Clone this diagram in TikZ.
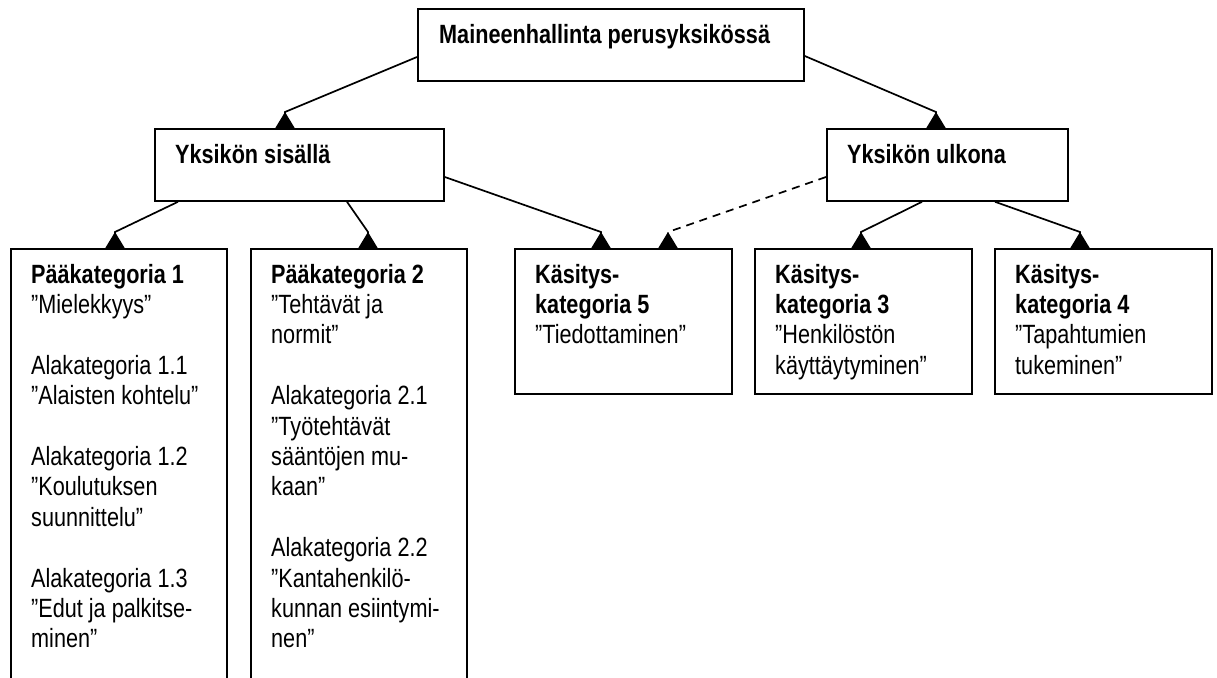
\documentclass[tikz,border=0pt]{standalone}
\usepackage{fontspec}
\setmainfont{Liberation Sans}[FakeStretch=0.82]
\usetikzlibrary{calc}
\newcommand\boxtext[1]{\parbox[t]{200pt}{\raggedright #1}}
\begin{document}
\begin{tikzpicture}[x=1pt,y=-1pt,
  box/.style={draw=black,line width=1.8pt,inner sep=0pt,anchor=north west,rectangle},
  txt/.style={anchor=base west,inner sep=0pt,font=\fontsize{26.4}{30.4}\selectfont},
  conn/.style={draw=black,line width=1.7pt},
  dconn/.style={conn,dash pattern=on 8pt off 6pt},
  tri/.pic={\fill[black] (0,0) -- (-10,16.5) -- (10,16.5) -- cycle;}
]
\useasboundingbox (0,0) rectangle (1217,677);
\clip (0,0) rectangle (1217,677);
\fill[white] (0,0) rectangle (1217,677);

% boxes
\node[box,minimum width=386pt,minimum height=72pt] (top) at (417,8) {};
\node[box,minimum width=289pt,minimum height=72pt] (sis) at (154,128) {};
\node[box,minimum width=241pt,minimum height=72pt] (ulk) at (826,128) {};
\node[box,minimum width=216pt,minimum height=460pt] (b1) at (10,248) {};
\node[box,minimum width=216pt,minimum height=460pt] (b2) at (250,248) {};
\node[box,minimum width=217pt,minimum height=145pt] (k5) at (514,248) {};
\node[box,minimum width=217pt,minimum height=145pt] (k3) at (754,248) {};
\node[box,minimum width=217pt,minimum height=145pt] (k4) at (994,248) {};

% texts
\node[txt] (toptxt) at ($(top.north west)+(22,36)$) {\textbf{Maineenhallinta perusyksikössä}};
\node[txt] (sistxt) at ($(sis.north west)+(21,35)$) {\textbf{Yksikön sisällä}};
\node[txt] (ulktxt) at ($(ulk.north west)+(21,35)$) {\textbf{Yksikön ulkona}};
\node[txt] (b1txt) at ($(b1.north west)+(21,35)$) {\boxtext{\textbf{Pääkategoria 1}\\
”Mielekkyys”\\[30.4pt]
Alakategoria 1.1\\
”Alaisten kohtelu”\\[30.4pt]
Alakategoria 1.2\\
”Koulutuksen\\
suunnittelu”\\[30.4pt]
Alakategoria 1.3\\
”Edut ja palkitse-\\
minen”}};
\node[txt] (b2txt) at ($(b2.north west)+(21,35)$) {\boxtext{\textbf{Pääkategoria 2}\\
”Tehtävät ja\\
normit”\\[30.4pt]
Alakategoria 2.1\\
”Työtehtävät\\
sääntöjen mu-\\
kaan”\\[30.4pt]
Alakategoria 2.2\\
”Kantahenkilö-\\
kunnan esiintymi-\\
nen”}};
\node[txt] (k5txt) at ($(k5.north west)+(21,35)$) {\boxtext{\textbf{Käsitys-}\\
\textbf{kategoria 5}\\
”Tiedottaminen”}};
\node[txt] (k3txt) at ($(k3.north west)+(21,35)$) {\boxtext{\textbf{Käsitys-}\\
\textbf{kategoria 3}\\
”Henkilöstön\\
käyttäytyminen”}};
\node[txt] (k4txt) at ($(k4.north west)+(21,35)$) {\boxtext{\textbf{Käsitys-}\\
\textbf{kategoria 4}\\
”Tapahtumien\\
tukeminen”}};

% connector start points
\coordinate (sA) at ($(top.north west)+(0,49)$);
\coordinate (sB) at ($(top.north east)+(0,48)$);
\coordinate (sC) at ($(sis.south west)+(24,0)$);
\coordinate (sD) at ($(sis.south west)+(193,0)$);
\coordinate (sE) at ($(sis.north east)+(0,49)$);
\coordinate (sF) at ($(ulk.north west)+(0,49)$);
\coordinate (sG) at ($(ulk.south west)+(96,0)$);
\coordinate (sH) at ($(ulk.south west)+(169,0)$);
% arrow apexes
\coordinate (a1) at ($(sis.north west)+(131,-16)$);
\coordinate (a2) at ($(ulk.north west)+(110,-16)$);
\coordinate (a3) at ($(b1.north west)+(105,-16)$);
\coordinate (a4) at ($(b2.north west)+(118,-16)$);
\coordinate (a5) at ($(k5.north west)+(87,-16)$);
\coordinate (a6) at ($(k5.north west)+(154,-16)$);
\coordinate (a7) at ($(k3.north west)+(107,-16)$);
\coordinate (a8) at ($(k4.north west)+(86,-16)$);

% connectors
\draw[conn] (sA) -- (a1) -- (a1 |- sis.north);
\draw[conn] (sB) -- (a2) -- (a2 |- ulk.north);
\draw[conn] (sC) -- (a3) -- (a3 |- b1.north);
\draw[conn] (sD) -- (a4) -- (a4 |- b2.north);
\draw[conn] (sE) -- (a5) -- (a5 |- k5.north);
\draw[dconn] (sF) -- (a6) -- (a6 |- k5.north);
\draw[conn] (sG) -- (a7) -- (a7 |- k3.north);
\draw[conn] (sH) -- (a8) -- (a8 |- k4.north);
\foreach \p in {a1,a2,a3,a4,a5,a6,a7,a8} {\pic at (\p) {tri};}
\end{tikzpicture}
\end{document}
